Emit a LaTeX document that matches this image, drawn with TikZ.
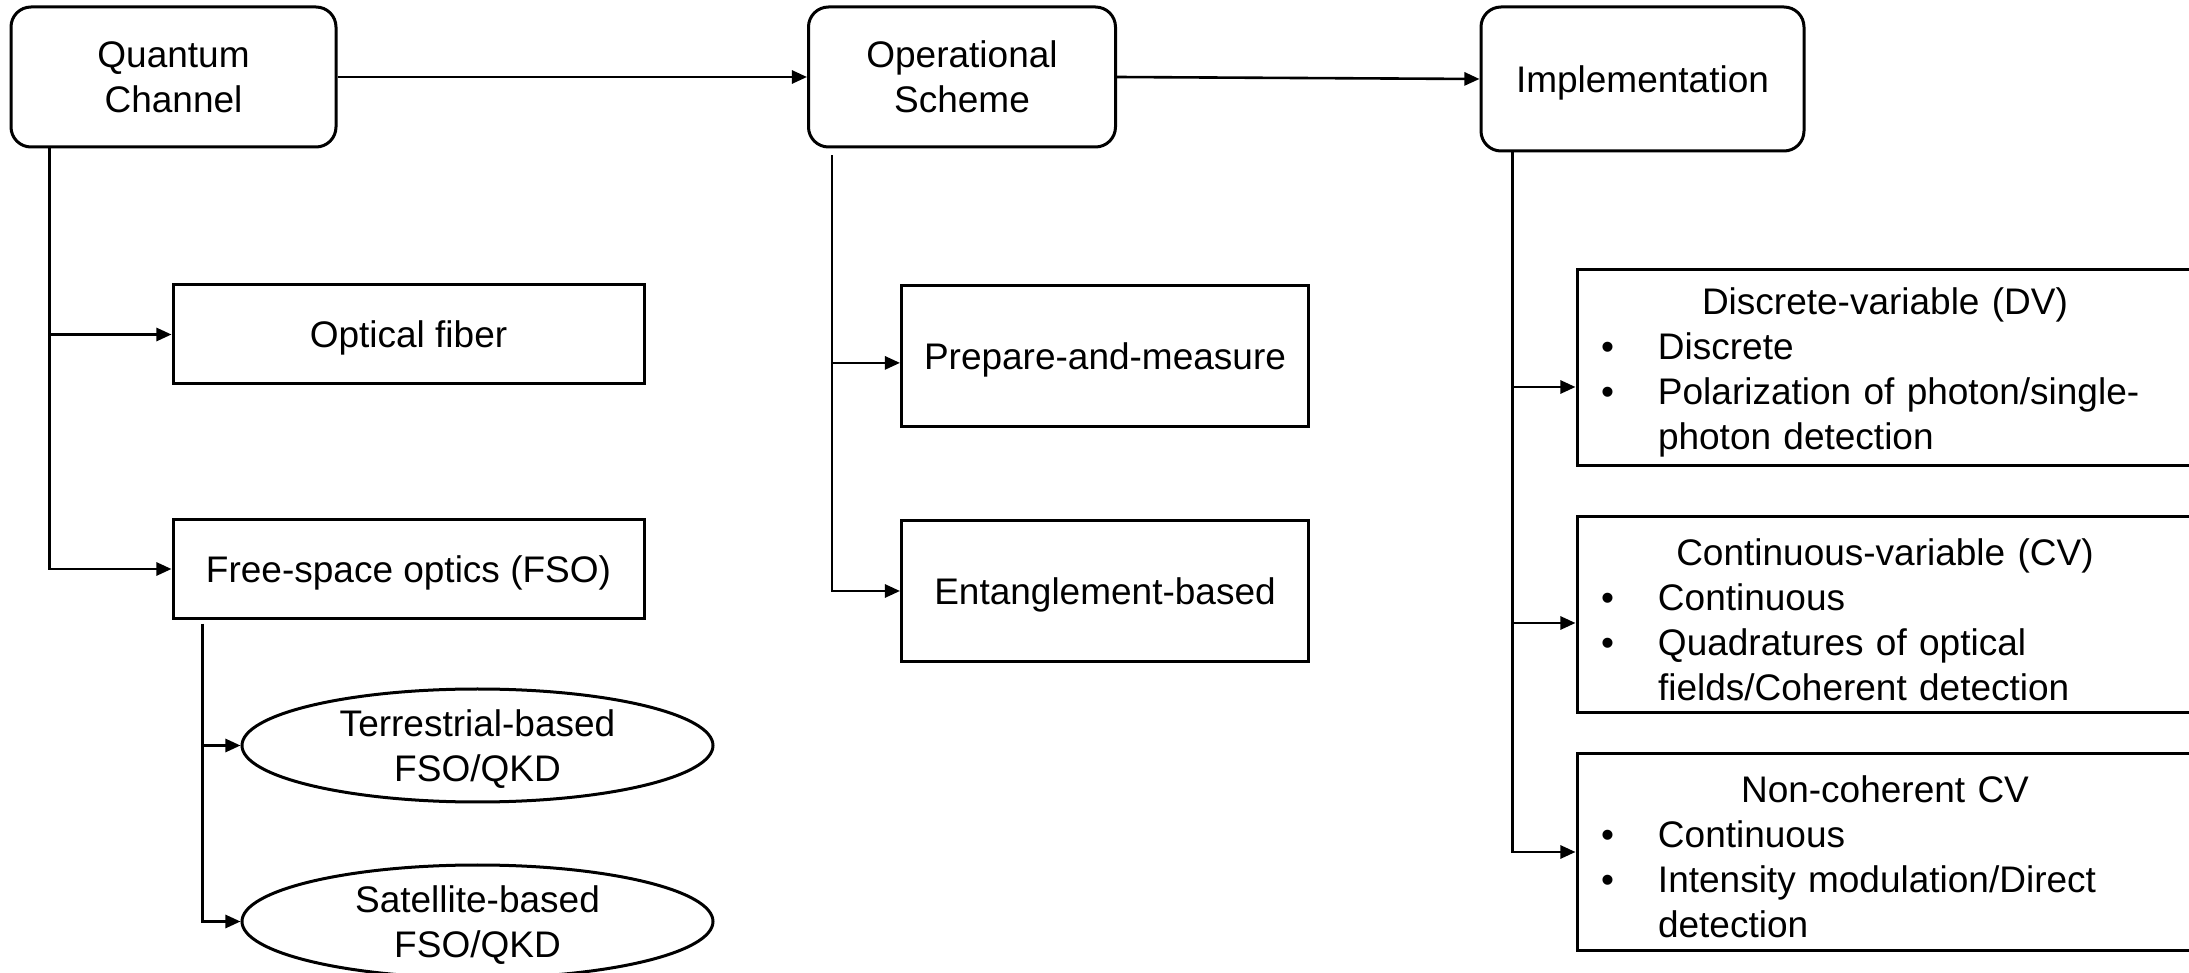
\documentclass[tikz,border=0pt]{standalone}
\usepackage{fontspec}
\setmainfont{Liberation Sans}
\usetikzlibrary{shapes.geometric,arrows.meta}

% bullet line with hanging indent for continuation lines
\newcommand\bitem[1]{\par\noindent\hangindent=20.25pt\hangafter=1
  \hspace*{6pt}\makebox[14.25pt][l]{\textbullet}#1\par}
% centred heading line of a list box, with a little extra head room
\newcommand\btitle[1]{{\centering\rule{0pt}{9pt}#1\par}}

\begin{document}
\begin{tikzpicture}[x=0.25pt,y=-0.25pt,
  txtf/.style={font=\fontsize{9.25pt}{11.25pt}\selectfont},
  txt/.style={txtf,text depth=0pt},
  rbox/.style={txt,draw,line width=0.75pt,rounded corners=5pt,align=center,inner sep=0pt},
  sbox/.style={txt,draw,line width=0.75pt,align=center,inner sep=0pt},
  lbox/.style={txtf,draw,line width=0.75pt,inner sep=0pt,text width=154pt,
    minimum height=49pt,align=left},
  obox/.style={txt,draw,line width=0.75pt,ellipse,inner sep=0pt,align=center,
    minimum width=117.75pt,minimum height=28.25pt},
  conn/.style={line width=0.65pt,-{Triangle[length=3.8pt,width=3.3pt]}}]

\useasboundingbox (0,0) rectangle (2189,973);

% top level
\node[rbox,minimum width=81.25pt,minimum height=35pt] (qc) at (173.5,77) {Quantum\\Channel};
\node[rbox,minimum width=76.75pt,minimum height=35pt] (os) at (962,77) {Operational\\Scheme};
\node[rbox,minimum width=80.75pt,minimum height=36pt] (im) at (1642.5,79) {Implementation};

\draw[conn] (qc.east) -- (os.west);
\draw[conn] (os.east) -- (im.west);

% quantum channel branch
\node[sbox,minimum width=117.75pt,minimum height=24.75pt] (of) at (408.5,334.5) {Optical fiber};
\node[sbox,minimum width=117.75pt,minimum height=24.75pt] (fso) at (408.5,569) {Free-space optics (FSO)};
\node[obox] (te) at (477.5,745.5) {Terrestrial-based\\FSO/QKD};
\node[obox] (sa) at (477.5,921.5) {Satellite-based\\FSO/QKD};

\coordinate (qct) at ([xshift=10pt]qc.south west);
\draw[conn] (qct) |- (of.west);
\draw[conn] (qct) |- (fso.west);

\coordinate (fsot) at ([xshift=7.75pt,yshift=-1pt]fso.south west);
\draw[conn] (fsot) |- (te.west);
\draw[conn] (fsot) |- (sa.west);

% operational scheme branch
\node[sbox,minimum width=101.75pt,minimum height=35.25pt] (pm) at (1105,356.5) {Prepare-and-measure};
\node[sbox,minimum width=101.75pt,minimum height=35.25pt] (eb) at (1105,591) {Entanglement-based};

\coordinate (ost) at ([xshift=6.25pt,yshift=-1.75pt]os.south west);
\draw[conn] (ost) |- ([yshift=-1.6pt]pm.west);
\draw[conn] (ost) |- (eb.west);

% implementation branch
\node[lbox] (dv) at (1885,368) {\btitle{Discrete-variable (DV)}
  \bitem{Discrete}
  \bitem{Polarization of photon/single-\newline photon detection}};
\node[lbox] (cv) at (1885,615) {\btitle{Continuous-variable (CV)}
  \bitem{Continuous}
  \bitem{Quadratures of optical\newline fields/Coherent detection}};
\node[lbox] (nc) at (1885,852) {\btitle{Non-coherent CV}
  \bitem{Continuous}
  \bitem{Intensity modulation/Direct\newline detection}};

\coordinate (imt) at ([xshift=8.25pt]im.south west);
\draw[conn] (imt) |- ([yshift=-4.75pt]dv.west);
\draw[conn] (imt) |- ([yshift=-2pt]cv.west);
\draw[conn] (imt) |- (nc.west);

\end{tikzpicture}
\end{document}
